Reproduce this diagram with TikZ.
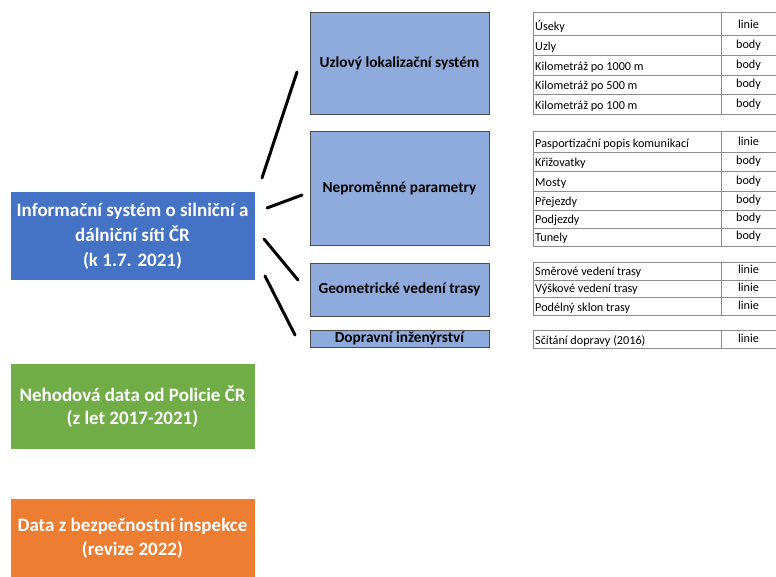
\documentclass[tikz,border=0pt]{standalone}
\usepackage{fontspec}
\setmainfont{Carlito}
\definecolor{mainblue}{HTML}{4472C4}
\definecolor{lightblue}{HTML}{8FAADC}
\definecolor{mygreen}{HTML}{70AD47}
\definecolor{myorange}{HTML}{ED7D31}
\definecolor{gridgray}{HTML}{8C8C8C}
\tikzset{
  bigbox/.style={minimum width=244pt, inner sep=0pt, text=white, align=center,
    font=\bfseries\fontsize{19}{25}\selectfont},
  midbox/.style={draw=black!70, line width=0.8pt, fill=lightblue, minimum width=179pt,
    inner sep=0pt, align=center, font=\bfseries\fontsize{15.3}{17}\selectfont},
  grid/.style={draw=gridgray, line width=0.9pt},
  cellL/.style={inner sep=0pt, font=\fontsize{12.2}{14}\selectfont},
  cellR/.style={inner sep=0pt, font=\fontsize{12.2}{14}\selectfont},
  conn/.style={line width=3pt, line cap=round}
}
\newcommand\tabrow[5]{%
  \draw[grid] (533,#2) -- (776,#2);
  \draw[grid] (533,#3) -- (776,#3);
  \draw[grid] (533,#2) -- (533,#3);
  \draw[grid] (721,#2) -- (721,#3);
  \node[cellL, anchor=base west] (#1a) at (535,#3-4) {#4};
  \node[cellR, anchor=base] (#1b) at (748.5,#3-6) {#5};
}
\begin{document}
\begin{tikzpicture}[x=1pt,y=-1pt]
\useasboundingbox (0,0) rectangle (776,577);

% left boxes
\node[bigbox, fill=mainblue, minimum height=88pt] (isd) at (132.5,236)
  {Informační systém o silniční a\\dálniční síti ČR\\(k 1.7. 2021)};
\node[bigbox, fill=mygreen, minimum height=85pt, font=\bfseries\fontsize{19}{23.5}\selectfont] (neh) at (132.5,406.5)
  {Nehodová data od Policie ČR\\(z let 2017-2021)};
\node[bigbox, fill=myorange, minimum height=78pt, font=\bfseries\fontsize{19}{24}\selectfont] (bez) at (132.5,538)
  {Data z bezpečnostní inspekce\\(revize 2022)};

% middle boxes
\node[midbox, minimum height=102pt] (uls) at (399.5,63) {Uzlový lokalizační systém};
\node[midbox, minimum height=114pt] (nep) at (399.5,188) {Neproměnné parametry};
\node[midbox, minimum height=53pt] (geo) at (399.5,289.5) {Geometrické vedení trasy};
\node[midbox, minimum height=17pt] (dop) at (399.5,338.5) {Dopravní inženýrství};

% connectors
\coordinate (c1a) at (262,178); \coordinate (c1b) at (297,72);
\coordinate (c2a) at (267,208); \coordinate (c2b) at (302,195);
\coordinate (c3a) at (264,239); \coordinate (c3b) at (298,280);
\coordinate (c4a) at (265,276); \coordinate (c4b) at (295,335);
\draw[conn] (c1a) -- (c1b);
\draw[conn] (c2a) -- (c2b);
\draw[conn] (c3a) -- (c3b);
\draw[conn] (c4a) -- (c4b);

% tables
\tabrow{ta}{12}{35}{Úseky}{linie}
\tabrow{tb}{35}{55}{Uzly}{body}
\tabrow{tc}{55}{75}{Kilometráž po 1000 m}{body}
\tabrow{td}{75}{94}{Kilometráž po 500 m}{body}
\tabrow{te}{94}{114}{Kilometráž po 100 m}{body}

\tabrow{tf}{131}{152}{Pasportizační popis komunikací}{linie}
\tabrow{tg}{152}{171}{Křižovatky}{body}
\tabrow{th}{171}{191}{Mosty}{body}
\tabrow{ti}{191}{210}{Přejezdy}{body}
\tabrow{tj}{210}{228}{Podjezdy}{body}
\tabrow{tk}{228}{246}{Tunely}{body}

\tabrow{tl}{262}{280}{Směrové vedení trasy}{linie}
\tabrow{tm}{280}{297}{Výškové vedení trasy}{linie}
\tabrow{tn}{297}{315}{Podélný sklon trasy}{linie}

\tabrow{to}{330}{348}{Sčítání dopravy (2016)}{linie}
\end{tikzpicture}
\end{document}
